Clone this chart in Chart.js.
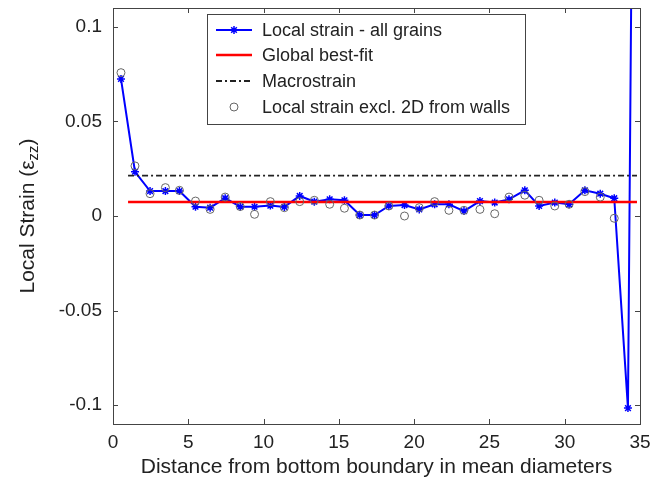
<!DOCTYPE html>
<html>
<head>
<meta charset="utf-8">
<script src="https://cdn.jsdelivr.net/npm/chart.js@4.4.1/dist/chart.umd.min.js"></script>
<style>
  body { margin: 0; background: #fff; }
  #wrap { width: 652px; height: 487px; }
</style>
</head>
<body>
<div id="wrap"><canvas id="myChart" width="652" height="487"></canvas></div>
<script>
'use strict';

// distance from bottom boundary (mean diameters)
const distance = [0.53, 1.46, 2.46, 3.48, 4.41, 5.48, 6.45, 7.45, 8.45, 9.40,
    10.45, 11.38, 12.40, 13.37, 14.39, 15.37, 16.39, 17.37, 18.32, 19.36,
    20.34, 21.36, 22.31, 23.31, 24.37, 25.35, 26.30, 27.35, 28.30, 29.34,
    30.29, 31.34, 32.36, 33.29, 34.20, 34.50];
// local strain, all grains (last point runs off the top)
const strainAll = [0.0725, 0.0234, 0.0132, 0.0132, 0.0132, 0.0049, 0.0044, 0.0094, 0.0049, 0.0049,
    0.0055, 0.0048, 0.0106, 0.0076, 0.0088, 0.0083, 0.0005, 0.0005, 0.0053, 0.0058,
    0.0035, 0.0062, 0.0062, 0.0026, 0.0079, 0.0071, 0.0088, 0.0136, 0.0053, 0.0071,
    0.0062, 0.0136, 0.0118, 0.0094, -0.1016, 0.2];
// local strain excluding 2D from walls
const strainExcl = [0.0758, 0.0265, 0.0118, 0.0150, 0.0136, 0.0079, 0.0035, 0.0100, 0.0050, 0.0009,
    0.0076, 0.0044, 0.0076, 0.0083, 0.0062, 0.0041, 0.0005, 0.0005, 0.0053, 0.0000,
    0.0044, 0.0076, 0.0030, 0.0030, 0.0035, 0.0012, 0.0100, 0.0110, 0.0083, 0.0053,
    0.0062, 0.0129, 0.0100, -0.0012];
const fitRange = [1.0, 34.8];
const bestFit = 0.0074;
const macroStrain = 0.0213;

const xTicks = [0, 5, 10, 15, 20, 25, 30, 35];
const yTicks = [-0.1, -0.05, 0, 0.05, 0.1];
const yTickLabels = ['-0.1', '-0.05', '0', '0.05', '0.1'];

const FONT = '"Liberation Sans", Arial, Helvetica, sans-serif';
const AXIS = '#444';
const TEXT = '#222';

const toPoints = (xs, ys) => ys.map((v, i) => ({ x: xs[i], y: v }));

function drawStar(ctx, cx, cy, r) {
    ctx.beginPath();
    ctx.moveTo(cx - r, cy); ctx.lineTo(cx + r, cy);
    ctx.moveTo(cx, cy - r); ctx.lineTo(cx, cy + r);
    const d = r * 0.707;
    ctx.moveTo(cx - d, cy - d); ctx.lineTo(cx + d, cy + d);
    ctx.moveTo(cx - d, cy + d); ctx.lineTo(cx + d, cy - d);
    ctx.stroke();
}

const frame = {
    id: 'frame',
    afterDraw(chart) {
        const { ctx, chartArea: a, scales: { x, y } } = chart;
        ctx.save();

        // box + inward ticks
        ctx.strokeStyle = AXIS;
        ctx.lineWidth = 1;
        ctx.strokeRect(Math.round(a.left) + 0.5, Math.round(a.top) + 0.5,
            Math.round(a.right - a.left), Math.round(a.bottom - a.top));
        ctx.beginPath();
        xTicks.forEach(v => {
            const px = Math.round(x.getPixelForValue(v)) + 0.5;
            ctx.moveTo(px, a.bottom); ctx.lineTo(px, a.bottom - 5);
            ctx.moveTo(px, a.top); ctx.lineTo(px, a.top + 5);
        });
        yTicks.forEach(v => {
            const py = Math.round(y.getPixelForValue(v)) + 0.5;
            ctx.moveTo(a.left, py); ctx.lineTo(a.left + 5, py);
            ctx.moveTo(a.right, py); ctx.lineTo(a.right - 5, py);
        });
        ctx.stroke();

        // legend
        const L = 207, T = 14, R = 525, B = 124;
        ctx.fillStyle = '#fff';
        ctx.fillRect(L, T, R - L, B - T);
        ctx.strokeStyle = AXIS;
        ctx.strokeRect(L + 0.5, T + 0.5, R - L, B - T);
        const rows = [30, 55, 81, 107];
        const names = chart.data.datasets.map(d => d.label);
        const x0 = 216, x1 = 252, xm = (x0 + x1) / 2;
        ctx.lineWidth = 2;
        // blue
        ctx.strokeStyle = '#0000ff';
        ctx.beginPath(); ctx.moveTo(x0, rows[0]); ctx.lineTo(x1, rows[0]); ctx.stroke();
        ctx.lineWidth = 1.5;
        drawStar(ctx, xm, rows[0], 4);
        // red
        ctx.lineWidth = 2.5;
        ctx.strokeStyle = '#ff0000';
        ctx.beginPath(); ctx.moveTo(x0, rows[1]); ctx.lineTo(x1, rows[1]); ctx.stroke();
        // black dash-dot
        ctx.lineWidth = 1.8;
        ctx.strokeStyle = '#222';
        ctx.setLineDash([6, 3, 2, 3]);
        ctx.beginPath(); ctx.moveTo(x0, rows[2]); ctx.lineTo(x1, rows[2]); ctx.stroke();
        ctx.setLineDash([]);
        // circle
        ctx.lineWidth = 1;
        ctx.strokeStyle = '#666';
        ctx.beginPath(); ctx.arc(xm, rows[3], 4, 0, Math.PI * 2); ctx.stroke();

        ctx.fillStyle = TEXT;
        ctx.font = '18px ' + FONT;
        ctx.textAlign = 'left';
        ctx.textBaseline = 'middle';
        names.forEach((n, i) => ctx.fillText(n, 262, rows[i] + 1));

        // x title
        ctx.font = '21px ' + FONT;
        ctx.textAlign = 'center';
        ctx.fillText('Distance from bottom boundary in mean diameters', (a.left + a.right) / 2, 467);

        // y title with subscript
        ctx.translate(26, (a.top + a.bottom) / 2);
        ctx.rotate(-Math.PI / 2);
        ctx.textAlign = 'left';
        ctx.textBaseline = 'alphabetic';
        const main = 'Local Strain (\u03B5', sub = 'zz', end = ')';
        ctx.font = '21px ' + FONT;
        const wMain = ctx.measureText(main).width, wEnd = ctx.measureText(end).width;
        ctx.font = '15px ' + FONT;
        const wSub = ctx.measureText(sub).width;
        let px = -(wMain + wSub + wEnd) / 2;
        ctx.font = '21px ' + FONT;
        ctx.fillText(main, px, 8); px += wMain;
        ctx.font = '15px ' + FONT;
        ctx.fillText(sub, px, 12); px += wSub;
        ctx.font = '21px ' + FONT;
        ctx.fillText(end, px, 8);

        ctx.restore();
    }
};

const ctx = document.getElementById('myChart').getContext('2d');

new Chart(ctx, {
    type: 'line',
    data: {
        datasets: [
            {
                label: 'Local strain - all grains',
                data: toPoints(distance, strainAll),
                borderColor: '#0000ff',
                backgroundColor: 'rgba(0,0,0,0)',
                borderWidth: 2,
                pointStyle: 'star',
                pointRadius: 4,
                pointBorderWidth: 1.5,
                pointBorderColor: '#0000ff',
                tension: 0,
                order: 3
            },
            {
                label: 'Global best-fit',
                data: fitRange.map(v => ({ x: v, y: bestFit })),
                borderColor: '#ff0000',
                borderWidth: 2.5,
                pointRadius: 0,
                order: 2
            },
            {
                label: 'Macrostrain',
                data: fitRange.map(v => ({ x: v, y: macroStrain })),
                borderColor: '#222',
                borderWidth: 1.8,
                borderDash: [6, 3, 2, 3],
                pointRadius: 0,
                order: 1
            },
            {
                label: 'Local strain excl. 2D from walls',
                data: toPoints(distance, strainExcl),
                showLine: false,
                pointStyle: 'circle',
                pointRadius: 4,
                pointBorderWidth: 1,
                pointBorderColor: '#666',
                pointBackgroundColor: 'rgba(0,0,0,0)',
                order: 0
            }
        ]
    },
    options: {
        responsive: false,
        animation: false,
        events: [],
        layout: { padding: { left: 0, right: 12, top: 8, bottom: 0 } },
        plugins: {
            legend: { display: false },
            tooltip: { enabled: false }
        },
        scales: {
            x: {
                type: 'linear',
                min: 0,
                max: 35,
                grid: { display: false, drawTicks: false },
                border: { display: false },
                afterBuildTicks: s => { s.ticks = xTicks.map(v => ({ value: v })); },
                afterFit: s => {
                    s.height = 63;
                    s.paddingLeft = 0; s.paddingRight = 0;
                },
                ticks: {
                    padding: 7,
                    color: TEXT,
                    font: { family: FONT, size: 19 },
                    maxRotation: 0
                }
            },
            y: {
                type: 'linear',
                min: -0.11,
                max: 0.11,
                grid: { display: false, drawTicks: false },
                border: { display: false },
                afterBuildTicks: s => { s.ticks = yTicks.map(v => ({ value: v })); },
                afterFit: s => {
                    s.width = 113;
                    s.paddingTop = 0; s.paddingBottom = 0;
                },
                ticks: {
                    padding: 11,
                    color: TEXT,
                    font: { family: FONT, size: 19 },
                    callback: (v) => yTickLabels[yTicks.indexOf(v)] ?? ''
                }
            }
        }
    },
    plugins: [frame]
});
</script>
</body>
</html>
